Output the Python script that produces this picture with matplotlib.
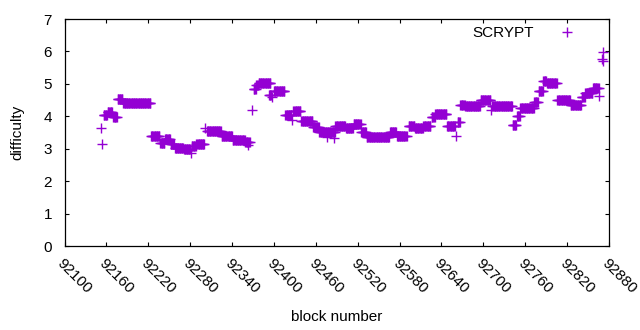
import numpy as np
import matplotlib
matplotlib.use("Agg")
import matplotlib.pyplot as plt
from matplotlib.lines import Line2D

# difficulty runs: first block, last block, difficulty
run_start = [92152, 92154, 92156, 92162, 92170, 92176, 92184, 92224, 92237, 92244,
             92252, 92258, 92271, 92281, 92282, 92289, 92301, 92304, 92325, 92341,
             92359, 92363, 92369, 92371, 92375, 92378, 92393, 92397, 92400, 92416,
             92426, 92428, 92439, 92456, 92465, 92476, 92486, 92488, 92503, 92514,
             92525, 92533, 92552, 92566, 92576, 92593, 92602, 92614, 92626, 92631,
             92648, 92661, 92663, 92667, 92674, 92696, 92711, 92713, 92742, 92748,
             92753, 92773, 92779, 92786, 92791, 92806, 92825, 92841, 92846, 92857,
             92866, 92870, 92871, 92871]
run_end = [92152, 92154, 92161, 92168, 92175, 92183, 92223, 92236, 92243, 92251,
           92257, 92270, 92280, 92281, 92288, 92300, 92301, 92324, 92340, 92358,
           92365, 92363, 92369, 92374, 92377, 92395, 92396, 92397, 92415, 92425,
           92426, 92438, 92455, 92464, 92487, 92476, 92486, 92502, 92513, 92524,
           92532, 92551, 92565, 92575, 92590, 92601, 92613, 92624, 92630, 92647,
           92659, 92661, 92666, 92673, 92695, 92710, 92711, 92741, 92747, 92752,
           92772, 92778, 92785, 92790, 92805, 92824, 92840, 92845, 92856, 92865,
           92866, 92870, 92871, 92871]
run_diff = [3.63, 3.16, 4.04, 4.14, 3.97, 4.52, 4.40, 3.40, 3.17, 3.29,
            3.14, 3.01, 2.98, 2.88, 3.08, 3.14, 3.63, 3.55, 3.38, 3.28,
            3.22, 3.11, 4.19, 4.83, 4.96, 5.02, 4.66, 4.59, 4.77, 4.05,
            3.89, 4.15, 3.86, 3.68, 3.52, 3.37, 3.32, 3.70, 3.63, 3.76,
            3.51, 3.35, 3.35, 3.52, 3.39, 3.70, 3.63, 3.71, 3.97, 4.06,
            3.71, 3.39, 3.83, 4.35, 4.31, 4.51, 4.19, 4.31, 3.72, 4.01,
            4.25, 4.45, 4.78, 5.09, 5.02, 4.49, 4.34, 4.59, 4.71, 4.86,
            4.63, 5.77, 5.99, 5.70]

x_ticks = list(range(92100, 92881, 60))
y_ticks = [0, 1, 2, 3, 4, 5, 6, 7]

# one point per block inside each run
blocks = []
diffs = []
for s, e, d in zip(run_start, run_end, run_diff):
    for b in range(s, e + 1):
        blocks.append(b)
        diffs.append(d)

plt.rcParams["font.family"] = ["Liberation Sans", "DejaVu Sans"]
plt.rcParams["font.size"] = 11

purple = "#9400d3"

fig = plt.figure(figsize=(6.4, 3.3), dpi=100)
ax = fig.add_axes([0.1008, 0.2545, 0.8508, 0.6879])

ax.plot(blocks, diffs, linestyle="none", marker="+", markersize=6.5,
        markeredgewidth=1.0, color=purple)

ax.set_xlim(92100, 92880)
ax.set_ylim(0, 7)
ax.set_xticks(x_ticks)
ax.set_yticks(y_ticks)
ax.tick_params(direction="in", top=True, right=True, length=3, width=0.8,
               colors="black", labelsize=11)
ax.tick_params(axis="y", pad=9)
ax.tick_params(axis="x", pad=7)
for lbl in ax.get_xticklabels():
    lbl.set_rotation(-45)
    lbl.set_ha("left")
    lbl.set_va("top")
    lbl.set_rotation_mode("anchor")
for sp in ax.spines.values():
    sp.set_linewidth(0.9)

ax.set_xlabel("block number", fontsize=11)
ax.set_ylabel("difficulty", fontsize=11)
ax.xaxis.set_label_coords(0.5, -0.28)
ax.yaxis.set_label_coords(-0.074, 0.5)

handle = Line2D([], [], linestyle="none", marker="+", markersize=6.5,
                markeredgewidth=1.0, color=purple)
ax.legend([handle], ["SCRYPT"], loc="upper right", markerfirst=False,
          frameon=False, handlelength=3, handletextpad=0.7, borderpad=0,
          borderaxespad=0, bbox_to_anchor=(0.965, 0.969))

fig.savefig("out.png", dpi=100)
